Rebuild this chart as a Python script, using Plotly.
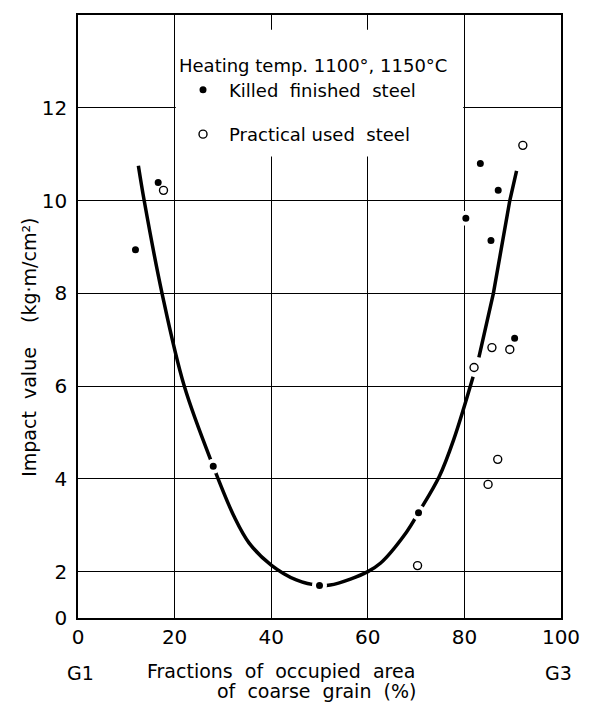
import plotly.graph_objects as go

# ---- data ----
killed_x = [11.9, 16.6, 28.0, 50.0, 70.5, 80.3, 83.3, 87.0, 85.5, 90.4]
killed_y = [8.94, 10.39, 4.27, 1.70, 3.27, 9.62, 10.80, 10.22, 9.14, 7.03]

practical_x = [17.7, 70.3, 82.0, 85.7, 89.4, 84.9, 86.9, 92.1]
practical_y = [10.22, 2.13, 6.40, 6.83, 6.79, 3.88, 4.42, 11.19]

curve_lower_x = [12.5, 13.7, 17.4, 22.0, 28.0, 32.4, 35.4, 40.0, 45.2, 50.0,
                 52.2, 56.4, 60.0, 62.6, 68.0, 70.5, 74.8, 77.8, 81.8]
curve_lower_y = [10.75, 10.0, 8.0, 6.0, 4.27, 3.17, 2.62, 2.14, 1.82, 1.70,
                 1.71, 1.84, 2.0, 2.18, 2.85, 3.27, 4.05, 4.85, 6.2]
curve_upper_x = [83.0, 86.0, 89.4, 90.8]
curve_upper_y = [6.62, 8.0, 10.0, 10.64]

x_tick_vals = [0, 20, 40, 60, 80, 100]
x_tick_text = ["0", "20", "40", "60", "80", "100"]
y_tick_vals = [1, 2, 4, 6, 8, 10, 12]
y_tick_text = ["0", "2", "4", "6", "8", "10", "12"]

legend_title = "Heating temp. 1100°, 1150°C"
killed_name = "Killed\u00a0\u00a0finished\u00a0\u00a0steel"
practical_name = "Practical\u00a0used\u00a0\u00a0steel"

FONT = "DejaVu Sans"

fig = go.Figure()

fig.add_trace(go.Scatter(x=curve_lower_x, y=curve_lower_y, mode="lines",
                         line=dict(color="black", width=3.5, shape="spline", smoothing=1.0),
                         showlegend=False, hoverinfo="skip"))
fig.add_trace(go.Scatter(x=curve_upper_x, y=curve_upper_y, mode="lines",
                         line=dict(color="black", width=3.5),
                         showlegend=False, hoverinfo="skip"))

fig.add_trace(go.Scatter(x=killed_x, y=killed_y, mode="markers", name=killed_name,
                         legendgroup="a",
                         marker=dict(symbol="circle", size=11, color="black",
                                     line=dict(color="white", width=4))))
fig.add_trace(go.Scatter(x=practical_x, y=practical_y, mode="markers", name=practical_name,
                         legendgroup="b",
                         marker=dict(symbol="circle", size=8, color="white",
                                     line=dict(color="black", width=1.4))))

axis_common = dict(showgrid=True, gridcolor="black", gridwidth=1.2,
                   showline=True, mirror=True, linecolor="black", linewidth=1.6,
                   ticks="", zeroline=False, tickfont=dict(size=20, family=FONT, color="black"))

fig.update_xaxes(range=[0, 100], tickvals=x_tick_vals, ticktext=x_tick_text,
                 ticklabelstandoff=0, **axis_common)
fig.update_yaxes(range=[1, 14], tickvals=y_tick_vals, ticktext=y_tick_text,
                 ticklabelstandoff=5, **axis_common)

# white panel behind the legend (interrupts grid lines as in the original)
fig.add_shape(type="rect", xref="x", yref="y", x0=20.25, x1=79.75, y0=10.95, y1=13.68,
              fillcolor="white", line=dict(width=0), layer="above")

annotations = [
    dict(text="Impact\u00a0\u00a0value\u00a0\u00a0\u00a0\u00a0(kg·m/cm²)", textangle=-90,
         xref="paper", x=-0.103, yref="y", y=6.83, xanchor="center", yanchor="middle",
         showarrow=False, font=dict(size=19)),
    dict(text="G1", xref="x", x=0.6, yref="paper", y=0, yshift=-55,
         xanchor="center", yanchor="middle", showarrow=False, font=dict(size=19)),
    dict(text="G3", xref="x", x=99.4, yref="paper", y=0, yshift=-55,
         xanchor="center", yanchor="middle", showarrow=False, font=dict(size=19)),
    dict(text="Fractions\u00a0\u00a0of\u00a0\u00a0occupied\u00a0\u00a0area", xref="x", x=42.0,
         yref="paper", y=0, yshift=-53, xanchor="center", yanchor="middle",
         showarrow=False, font=dict(size=19)),
    dict(text="of\u00a0\u00a0coarse\u00a0\u00a0grain\u00a0\u00a0(%)", xref="x", x=49.3,
         yref="paper", y=0, yshift=-73, xanchor="center", yanchor="middle",
         showarrow=False, font=dict(size=19)),
]

fig.update_layout(
    width=584, height=694,
    margin=dict(l=70, r=31, t=5, b=84),
    plot_bgcolor="white", paper_bgcolor="white",
    font=dict(family=FONT, size=19, color="black"),
    showlegend=True,
    legend=dict(x=0.205, y=0.945, xanchor="left", yanchor="top",
                bgcolor="rgba(0,0,0,0)", borderwidth=0,
                font=dict(size=18, family=FONT, color="black"),
                title=dict(text=legend_title, font=dict(size=18, family=FONT, color="black")),
                tracegroupgap=18, itemsizing="trace", itemwidth=42),
    annotations=annotations,
)

fig.write_html("out.html")
